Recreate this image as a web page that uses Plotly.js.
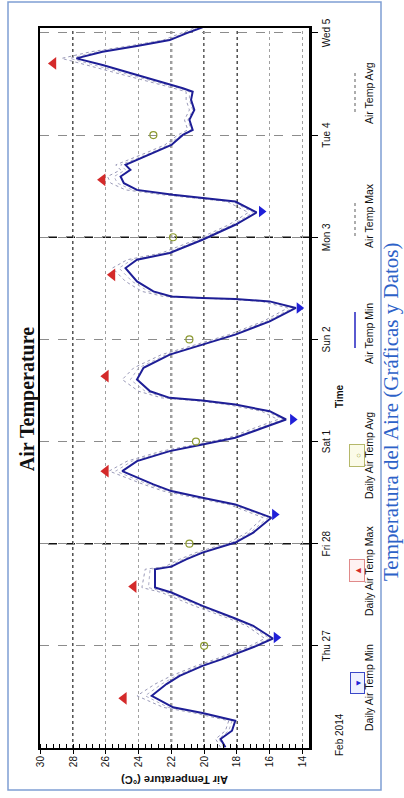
<!DOCTYPE html>
<html>
<head>
<meta charset="utf-8">
<script src="https://cdn.plot.ly/plotly-3.0.1.min.js"></script>
<style>
  html, body { margin:0; padding:0; width:404px; height:798px; overflow:hidden; background:#fff; }
  #chart { position:absolute; left:0; top:798px; width:798px; height:404px;
           transform-origin:0 0; transform:rotate(-90deg); }
</style>
</head>
<body>
<div id="chart"></div>
<script>
// ---- data ----
const timeStamps = [
 '2014-02-26 00:10','2014-02-26 02:07','2014-02-26 04:04','2014-02-26 06:24','2014-02-26 08:13','2014-02-26 09:33',
 '2014-02-26 12:16','2014-02-26 15:01','2014-02-26 16:58','2014-02-26 19:18','2014-02-26 20:53','2014-02-26 22:03',
 '2014-02-27 00:00','2014-02-27 01:44','2014-02-27 04:41','2014-02-27 06:26','2014-02-27 09:23','2014-02-27 12:32',
 '2014-02-27 13:42','2014-02-27 18:00','2014-02-27 18:37','2014-02-27 20:20','2014-02-27 21:55','2014-02-28 00:16',
 '2014-02-28 02:36','2014-02-28 06:07','2014-02-28 09:14','2014-02-28 10:49','2014-02-28 12:22','2014-02-28 13:56',
 '2014-02-28 15:31','2014-02-28 17:04','2014-02-28 19:24','2014-02-28 21:45','2014-02-28 23:19','2014-03-01 00:53',
 '2014-03-01 03:14','2014-03-01 05:11','2014-03-01 07:08','2014-03-01 08:42','2014-03-01 09:38','2014-03-01 10:16',
 '2014-03-01 11:49','2014-03-01 14:34','2014-03-01 17:19','2014-03-01 20:26','2014-03-01 22:47','2014-03-02 01:07',
 '2014-03-02 04:15','2014-03-02 07:23','2014-03-02 08:56','2014-03-02 09:28','2014-03-02 09:44','2014-03-02 10:06',
 '2014-03-02 11:17','2014-03-02 13:38','2014-03-02 16:46','2014-03-02 18:43','2014-03-02 20:18','2014-03-02 23:25',
 '2014-03-03 02:56','2014-03-03 05:49','2014-03-03 08:24','2014-03-03 09:11','2014-03-03 09:58','2014-03-03 11:08',
 '2014-03-03 12:43','2014-03-03 14:16','2014-03-03 15:50','2014-03-03 17:00','2014-03-03 18:11','2014-03-03 19:45',
 '2014-03-03 21:42','2014-03-04 00:03','2014-03-04 01:13','2014-03-04 03:34','2014-03-04 05:55','2014-03-04 08:16',
 '2014-03-04 10:12','2014-03-04 11:00','2014-03-04 11:47','2014-03-04 14:07','2014-03-04 16:28','2014-03-04 18:02',
 '2014-03-04 19:36','2014-03-04 20:56','2014-03-04 22:20','2014-03-04 23:55','2014-03-05 01:19'
];
const airTempMin = [
 18.7,19.0,18.3,18.1,20.1,21.9, 23.2,22.3,21.5,20.1,18.9,18.1,
 16.8,15.8,17.0,18.1,20.1,22.0, 23.0,23.0,22.0,21.1,20.1,18.1,
 17.0,15.9,18.1,20.1,22.0,23.1, 24.1,25.0,24.1,22.1,20.1,18.1,
 16.4,15.0,16.0,18.1,20.1,22.1, 23.3,24.1,23.7,22.1,20.1,18.1,
 16.0,14.4,16.0,18.1,20.1,22.0, 23.1,24.1,24.8,24.1,22.1,20.1,
 18.1,16.8,18.1,20.1,21.9,24.1, 24.9,25.1,24.5,24.8,24.1,23.1,
 22.0,21.3,20.7,20.9,20.6,20.8, 20.7,21.3,22.0,24.1,26.2,27.8,
 26.2,24.1,22.1,21.1,20.1
];
const airTempMax = [
 19.0,19.3,18.7,18.5,20.6,22.5, 24.1,23.0,22.0,20.5,19.3,18.5,
 17.2,16.3,17.4,18.5,20.6,22.6, 23.8,23.6,22.4,21.5,20.5,18.5,
 17.4,16.4,18.5,20.6,22.5,23.7, 24.8,25.8,24.7,22.6,20.5,18.5,
 16.9,15.5,16.5,18.6,20.6,22.6, 24.0,25.0,24.3,22.6,20.5,18.5,
 16.4,14.9,16.5,18.6,20.6,22.5, 23.8,24.8,25.6,24.7,22.6,20.5,
 18.5,17.3,18.6,20.6,22.5,24.8, 25.7,25.9,25.1,25.4,24.6,23.6,
 22.4,21.6,21.0,21.2,20.9,21.1, 21.1,21.8,22.6,24.9,27.1,28.7,
 26.9,24.6,22.5,21.5,20.5
];
const airTempAvg = [
 18.8,19.1,18.5,18.3,20.3,22.2, 23.6,22.6,21.7,20.3,19.1,18.3,
 17.0,16.0,17.2,18.3,20.3,22.3, 23.4,23.3,22.2,21.3,20.3,18.3,
 17.2,16.1,18.3,20.3,22.2,23.4, 24.4,25.4,24.4,22.3,20.3,18.3,
 16.6,15.2,16.2,18.3,20.3,22.3, 23.6,24.5,24.0,22.3,20.3,18.3,
 16.2,14.6,16.2,18.3,20.3,22.2, 23.4,24.4,25.2,24.4,22.3,20.3,
 18.3,17.0,18.3,20.3,22.2,24.4, 25.3,25.5,24.8,25.1,24.3,23.3,
 22.2,21.4,20.8,21.0,20.7,20.9, 20.9,21.5,22.3,24.5,26.6,28.2,
 26.5,24.3,22.3,21.3,20.3
];
const dailyMaxTimes = ['2014-02-26 11:40','2014-02-27 13:55','2014-02-28 17:03','2014-03-01 15:22','2014-03-02 15:10','2014-03-03 13:29','2014-03-04 16:50'];
const dailyMaxValues = [24.9, 24.3, 26.0, 26.0, 25.6, 26.2, 29.2];
const dailyMinTimes = ['2014-02-27 01:58','2014-02-28 06:53','2014-03-01 05:11','2014-03-02 07:23','2014-03-03 06:03'];
const dailyMinValues = [15.6, 15.7, 14.6, 14.2, 16.5];
const dailyAvgTimes = ['2014-02-27','2014-02-28','2014-03-01','2014-03-02','2014-03-03','2014-03-04'];
const dailyAvgValues = [20.0, 20.9, 20.5, 20.9, 21.9, 23.1];

const dayTickVals = ['2014-02-27','2014-02-28','2014-03-01','2014-03-02','2014-03-03','2014-03-04','2014-03-05'];
const dayTickText = ['Thu 27','Fri 28','Sat 1','Sun 2','Mon 3','Tue 4','Wed 5'];
const tempTickVals = [14,16,18,20,22,24,26,28,30];
const boldTempLines = [28,22,20,18];
const boldDayLines = ['2014-02-28','2014-03-03'];

const legendNames = ['Daily Air Temp Min','Daily Air Temp Max','Daily Air Temp Avg','Air Temp Min','Air Temp Max','Air Temp Avg'];

// ---- layout helpers (paper coords of the unrotated 798x404 figure) ----
const M = {l:50, r:28, t:40, b:95};
const W = 798, H = 404;
const PW = W - M.l - M.r, PH = H - M.t - M.b;
const px = X => (X - M.l) / PW;
const py = Y => (H - M.b - Y) / PH;

const SANS = 'Liberation Sans, Arial, sans-serif';
const SERIF = 'Liberation Serif, Times New Roman, serif';
const lineBlue = '#1e1e96';
const dotGrey = '#9a9ab8';

const traces = [
  {x: timeStamps, y: airTempMax, type:'scatter', mode:'lines', name: legendNames[4],
   line:{color:dotGrey, width:1, dash:'dot'}},
  {x: timeStamps, y: airTempAvg, type:'scatter', mode:'lines', name: legendNames[5],
   line:{color:'#b0b0c8', width:1, dash:'dot'}},
  {x: timeStamps, y: airTempMin, type:'scatter', mode:'lines', name: legendNames[3],
   line:{color:lineBlue, width:2}},
  {x: dailyMaxTimes, y: dailyMaxValues, type:'scatter', mode:'markers', name: legendNames[1],
   marker:{symbol:'triangle-up', size:11, color:'#d42a2a'}},
  {x: dailyMinTimes, y: dailyMinValues, type:'scatter', mode:'markers', name: legendNames[0],
   marker:{symbol:'triangle-down', size:10, color:'#2020d8'}},
  {x: dailyAvgTimes, y: dailyAvgValues, type:'scatter', mode:'markers', name: legendNames[2],
   marker:{symbol:'circle-open', size:7, color:'#8c9a30', line:{width:1.2}}}
];

const shapes = [];
boldTempLines.forEach(v => shapes.push({type:'line', xref:'paper', x0:0, x1:1, yref:'y', y0:v, y1:v,
  line:{color:'#111', width:1.6, dash:'dot'}, layer:'below'}));
boldDayLines.forEach(d => shapes.push({type:'line', yref:'paper', y0:0, y1:1, xref:'x', x0:d, x1:d,
  line:{color:'#111', width:1.6, dash:'dash'}, layer:'below'}));
// outer frame
shapes.push({type:'rect', xref:'paper', yref:'paper', x0:px(8), x1:px(796), y0:py(381), y1:py(8),
  line:{color:'#7f9fd3', width:1.5}, fillcolor:'rgba(0,0,0,0)'});
// legend line samples
shapes.push({type:'line', xref:'paper', yref:'paper', x0:px(450), x1:px(486), y0:py(355), y1:py(355),
  line:{color:'#5a5ad0', width:2}});
shapes.push({type:'line', xref:'paper', yref:'paper', x0:px(562), x1:px(596), y0:py(355), y1:py(355),
  line:{color:'#777', width:1.2, dash:'dot'}});
shapes.push({type:'line', xref:'paper', yref:'paper', x0:px(686), x1:px(726), y0:py(355), y1:py(355),
  line:{color:'#777', width:1.2, dash:'dot'}});

const A = (X, Y, text, extra) => Object.assign({xref:'paper', yref:'paper', x:px(X), y:py(Y), text:text,
  showarrow:false, xanchor:'center', yanchor:'middle'}, extra);

const annotations = [
  A(18, 175, 'Air Temperature (°C)', {textangle:-90, font:{family:SANS, size:11, color:'#111', weight:'bold'}}),
  A(402, 339, 'Time', {font:{family:SANS, size:10, color:'#111', weight:'bold'}}),
  A(63, 339, 'Feb 2014', {font:{family:SANS, size:10, color:'#111'}}),
  A(386, 391, 'Temperatura del Aire (Gráficas y Datos)', {font:{family:SERIF, size:21, color:'#2d62c8'}}),
  A(115, 357, '▼', {width:18, height:11, bordercolor:'#3a48c8', borderwidth:1, bgcolor:'#eef0ff', font:{size:8, color:'#2020d8'}}),
  A(227, 357, '▲', {width:19, height:12, bordercolor:'#e08a8a', borderwidth:1, bgcolor:'#fff2f2', font:{size:9, color:'#d42a2a'}}),
  A(342, 357, '○', {width:19, height:12, bordercolor:'#b5b86a', borderwidth:1, bgcolor:'#fbfbe8', font:{size:8, color:'#8c9a30'}})
];
const legendCenters = [110, 227, 342, 465, 582, 705];
legendNames.forEach((n, i) => annotations.push(A(legendCenters[i], 369, n, {font:{family:SANS, size:10.5, color:'#111'}})));

const layout = {
  width: W, height: H,
  margin: M,
  paper_bgcolor:'#fff', plot_bgcolor:'#fff',
  showlegend:false,
  title:{text:'Air Temperature', xref:'container', x:0.5, xanchor:'center', y:(H-27)/H, yanchor:'middle',
         font:{family:SERIF, size:20, color:'#111', weight:'bold'}},
  xaxis:{type:'date', range:['2014-02-26 00:00','2014-03-05 01:10'],
         tickmode:'array', tickvals:dayTickVals, ticktext:dayTickText,
         showgrid:true, gridcolor:'#8c8c8c', griddash:'dash', gridwidth:1,
         showline:true, linecolor:'#000', linewidth:2.5, mirror:true,
         ticks:'outside', ticklen:6, tickcolor:'#000', zeroline:false,
         tickfont:{family:SANS, size:10, color:'#111'}},
  yaxis:{range:[13.6, 30.02], tickmode:'array', tickvals:tempTickVals,
         showgrid:true, gridcolor:'#a0a0a0', griddash:'dot', gridwidth:1,
         showline:true, linecolor:'#000', linewidth:2, mirror:true,
         ticks:'outside', ticklen:4, tickcolor:'#000', zeroline:false,
         minor:{ticks:'inside', dtick:0.4, ticklen:4, tickcolor:'#000', showgrid:false},
         tickfont:{family:SANS, size:10, color:'#111'}},
  shapes: shapes,
  annotations: annotations
};

Plotly.newPlot('chart', traces, layout, {displayModeBar:false, staticPlot:true});
</script>
</body>
</html>
